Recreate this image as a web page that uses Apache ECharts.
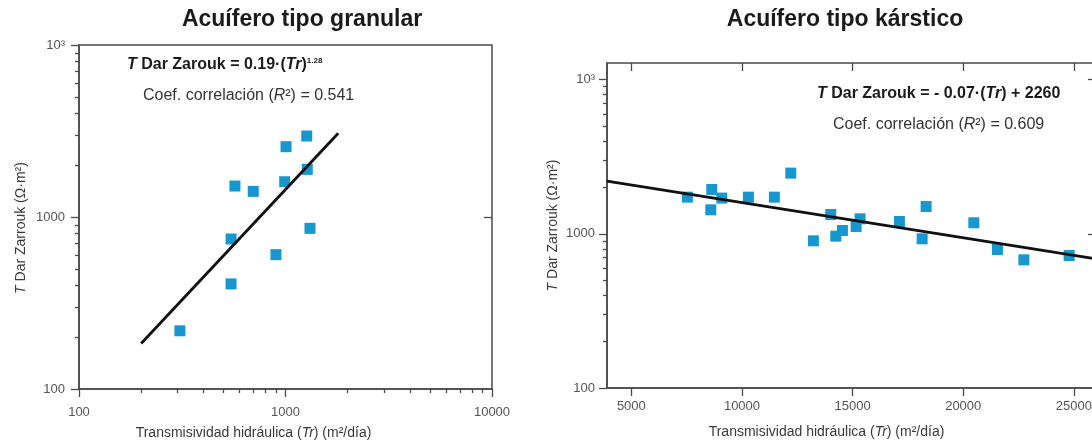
<!DOCTYPE html>
<html><head><meta charset="utf-8">
<script src="https://cdn.jsdelivr.net/npm/echarts@6/dist/echarts.min.js"></script>
<style>html,body{margin:0;padding:0;background:#fff;overflow:hidden;width:1092px;height:443px}#c{width:1100px;height:443px}</style>
</head><body><div id="c"></div>
<script>
// ---- data ----
const granTr = [308, 545, 545, 569, 698, 899, 991, 1006, 1267, 1275, 1314];
const granT  = [218, 408, 745, 1514, 1409, 604, 1603, 2564, 2957, 1892, 859];
const granFitTr = [200, 1800];
const granFitT  = [184, 3070];

const karstTr = [7532, 8635, 8590, 9087, 10290, 11465, 12206, 13228, 14014, 14240, 14539, 15158, 15339, 17116, 18142, 18323, 20479, 21546, 22740, 24787];
const karstT  = [1730, 1941, 1432, 1706, 1730, 1730, 2477, 901, 1335, 966, 1051, 1115, 1251, 1202, 928, 1503, 1179, 791, 678, 723];
const karstFitTr = [3900, 26000];
const karstFitT  = [2198, 688];

const logMajor = [100, 1000, 10000];
const logMinor = [200, 300, 400, 500, 600, 700, 800, 900, 2000, 3000, 4000, 5000, 6000, 7000, 8000, 9000];
const karstTicks = [5000, 10000, 15000, 20000, 25000];

const titles = ['Acuífero tipo granular', 'Acuífero tipo kárstico'];

// ---- styling ----
const FONT = '"Liberation Sans", Arial, Helvetica, sans-serif';
const AX = '#4a4a4a';
const LBL = '#555555';
const NAME = '#3a3a3a';
const BLUE = '#1797cf';

function pairs(xs, ys) { return xs.map((x, i) => [x, ys[i]]); }
function ylab(v) { return Math.round(v) === 10000 ? '10³' : String(Math.round(v)); }
function xlab(v) { return String(Math.round(v)); }

const axLine = { show: true, onZero: false, lineStyle: { color: AX, width: 1.5 } };
const noLine = { show: false, onZero: false };
const tickStyle = { color: AX, width: 1.3 };
const lblStyle = { fontSize: 13, color: LBL, fontFamily: FONT };
const nameRich = {
  n: { fontSize: 14, color: NAME, fontFamily: FONT },
  i: { fontSize: 14, color: NAME, fontFamily: FONT, fontStyle: 'italic' }
};
const xName = '{n|Transmisividad hidráulica (}{i|Tr}{n|) (m²/día)}';
const yName = '{i|T}{n| Dar Zarrouk (Ω·m²)}';

const option = {
  animation: false,
  backgroundColor: '#ffffff',
  textStyle: { fontFamily: FONT },
  grid: [
    { left: 79, top: 45, width: 413, height: 344, show: true, borderColor: AX, borderWidth: 1.5, backgroundColor: 'transparent', outerBoundsMode: 'none', containLabel: false },
    { left: 607, top: 63, width: 489, height: 325, show: true, borderColor: AX, borderWidth: 1.5, backgroundColor: 'transparent', outerBoundsMode: 'none', containLabel: false }
  ],
  xAxis: [
    { gridIndex: 0, type: 'log', logBase: 10, min: 100, max: 10000, position: 'bottom',
      axisLine: axLine, splitLine: { show: false },
      axisTick: { show: true, customValues: logMajor, length: 8, lineStyle: tickStyle },
      axisLabel: Object.assign({ customValues: logMajor, margin: 17, formatter: xlab }, lblStyle),
      name: xName, nameLocation: 'middle', nameGap: 37,
      nameTextStyle: { rich: nameRich, padding: [0, 64, 0, 0] } },
    { gridIndex: 0, type: 'log', logBase: 10, min: 100, max: 10000, position: 'bottom',
      axisLine: noLine, splitLine: { show: false },
      axisTick: { show: true, customValues: logMinor, length: 4, lineStyle: tickStyle },
      axisLabel: { show: false } },
    { gridIndex: 1, type: 'value', min: 3900, max: 26000, position: 'bottom',
      axisLine: axLine, splitLine: { show: false },
      axisTick: { show: true, customValues: karstTicks, length: 8, lineStyle: tickStyle },
      axisLabel: Object.assign({ customValues: karstTicks, margin: 12, formatter: xlab }, lblStyle),
      name: xName, nameLocation: 'middle', nameGap: 37,
      nameTextStyle: { rich: nameRich, padding: [0, 50, 0, 0] } },
    { gridIndex: 1, type: 'value', min: 3900, max: 26000, position: 'top',
      axisLine: noLine, splitLine: { show: false },
      axisTick: { show: true, inside: true, customValues: karstTicks, length: 8, lineStyle: tickStyle },
      axisLabel: { show: false } }
  ],
  yAxis: [
    { gridIndex: 0, type: 'log', logBase: 10, min: 100, max: 10000, position: 'left',
      axisLine: axLine, splitLine: { show: false },
      axisTick: { show: true, customValues: logMajor, length: 8, lineStyle: tickStyle },
      axisLabel: Object.assign({ customValues: logMajor, margin: 14, formatter: ylab }, lblStyle),
      name: yName, nameLocation: 'middle', nameGap: 51,
      nameTextStyle: { rich: nameRich, padding: [0, 22, 0, 0] } },
    { gridIndex: 0, type: 'log', logBase: 10, min: 100, max: 10000, position: 'left',
      axisLine: noLine, splitLine: { show: false },
      axisTick: { show: true, customValues: logMinor, length: 4, lineStyle: tickStyle },
      axisLabel: { show: false } },
    { gridIndex: 0, type: 'log', logBase: 10, min: 100, max: 10000, position: 'right',
      axisLine: noLine, splitLine: { show: false },
      axisTick: { show: true, inside: true, customValues: [1000], length: 8, lineStyle: tickStyle },
      axisLabel: { show: false } },
    { gridIndex: 1, type: 'log', logBase: 10, min: 100, max: 12830, position: 'left',
      axisLine: axLine, splitLine: { show: false },
      axisTick: { show: true, customValues: logMajor, length: 8, lineStyle: tickStyle },
      axisLabel: Object.assign({ customValues: logMajor, margin: 12, formatter: ylab }, lblStyle),
      name: yName, nameLocation: 'middle', nameGap: 47,
      nameTextStyle: { rich: nameRich } },
    { gridIndex: 1, type: 'log', logBase: 10, min: 100, max: 12830, position: 'left',
      axisLine: noLine, splitLine: { show: false },
      axisTick: { show: true, customValues: logMinor, length: 4, lineStyle: tickStyle },
      axisLabel: { show: false } },
    { gridIndex: 1, type: 'log', logBase: 10, min: 100, max: 12830, position: 'right',
      axisLine: noLine, splitLine: { show: false },
      axisTick: { show: true, inside: true, customValues: [1000, 10000], length: 8, lineStyle: tickStyle },
      axisLabel: { show: false } }
  ],
  series: [
    { type: 'scatter', xAxisIndex: 0, yAxisIndex: 0, data: pairs(granTr, granT),
      symbol: 'rect', symbolSize: 11, itemStyle: { color: BLUE, opacity: 1 }, z: 2, silent: true },
    { type: 'line', xAxisIndex: 0, yAxisIndex: 0, data: pairs(granFitTr, granFitT),
      symbol: 'none', lineStyle: { color: '#111111', width: 2.8 }, z: 3, silent: true },
    { type: 'scatter', xAxisIndex: 2, yAxisIndex: 3, data: pairs(karstTr, karstT),
      symbol: 'rect', symbolSize: 11, itemStyle: { color: BLUE, opacity: 1 }, z: 2, silent: true },
    { type: 'line', xAxisIndex: 2, yAxisIndex: 3, data: pairs(karstFitTr, karstFitT),
      symbol: 'none', lineStyle: { color: '#111111', width: 2.8 }, z: 3, silent: true }
  ],
  graphic: [
    { type: 'text', x: 302, y: 20, style: { text: titles[0], fontSize: 23, fontWeight: 'bold', fontFamily: FONT, fill: '#1a1a1a', align: 'center', verticalAlign: 'middle' } },
    { type: 'text', x: 845, y: 20, style: { text: titles[1], fontSize: 23, fontWeight: 'bold', fontFamily: FONT, fill: '#1a1a1a', align: 'center', verticalAlign: 'middle' } },
    { type: 'text', x: 127, y: 65, style: {
        text: '{bi|T}{b| Dar Zarouk = 0.19·(}{bi|Tr}{b|)}{sup|1.28}', align: 'left', verticalAlign: 'middle',
        rich: {
          b: { fontSize: 16, fontWeight: 'bold', fontFamily: FONT, fill: '#1a1a1a' },
          bi: { fontSize: 16, fontWeight: 'bold', fontStyle: 'italic', fontFamily: FONT, fill: '#1a1a1a' },
          sup: { fontSize: 8, fontWeight: 'bold', fontFamily: FONT, fill: '#1a1a1a', verticalAlign: 'top' }
        } } },
    { type: 'text', x: 143, y: 96, style: {
        text: '{r|Coef. correlación (}{ri|R}{r|²) = 0.541}', align: 'left', verticalAlign: 'middle',
        rich: {
          r: { fontSize: 16, fontFamily: FONT, fill: '#333333' },
          ri: { fontSize: 16, fontStyle: 'italic', fontFamily: FONT, fill: '#333333' }
        } } },
    { type: 'text', x: 817, y: 94, style: {
        text: '{bi|T}{b| Dar Zarouk = - 0.07·(}{bi|Tr}{b|) + 2260}', align: 'left', verticalAlign: 'middle',
        rich: {
          b: { fontSize: 16, fontWeight: 'bold', fontFamily: FONT, fill: '#1a1a1a' },
          bi: { fontSize: 16, fontWeight: 'bold', fontStyle: 'italic', fontFamily: FONT, fill: '#1a1a1a' }
        } } },
    { type: 'text', x: 833, y: 125, style: {
        text: '{r|Coef. correlación (}{ri|R}{r|²) = 0.609}', align: 'left', verticalAlign: 'middle',
        rich: {
          r: { fontSize: 16, fontFamily: FONT, fill: '#333333' },
          ri: { fontSize: 16, fontStyle: 'italic', fontFamily: FONT, fill: '#333333' }
        } } }
  ]
};

const chart = echarts.init(document.getElementById('c'), null, { renderer: 'canvas' });
chart.setOption(option);
</script>
</body></html>
